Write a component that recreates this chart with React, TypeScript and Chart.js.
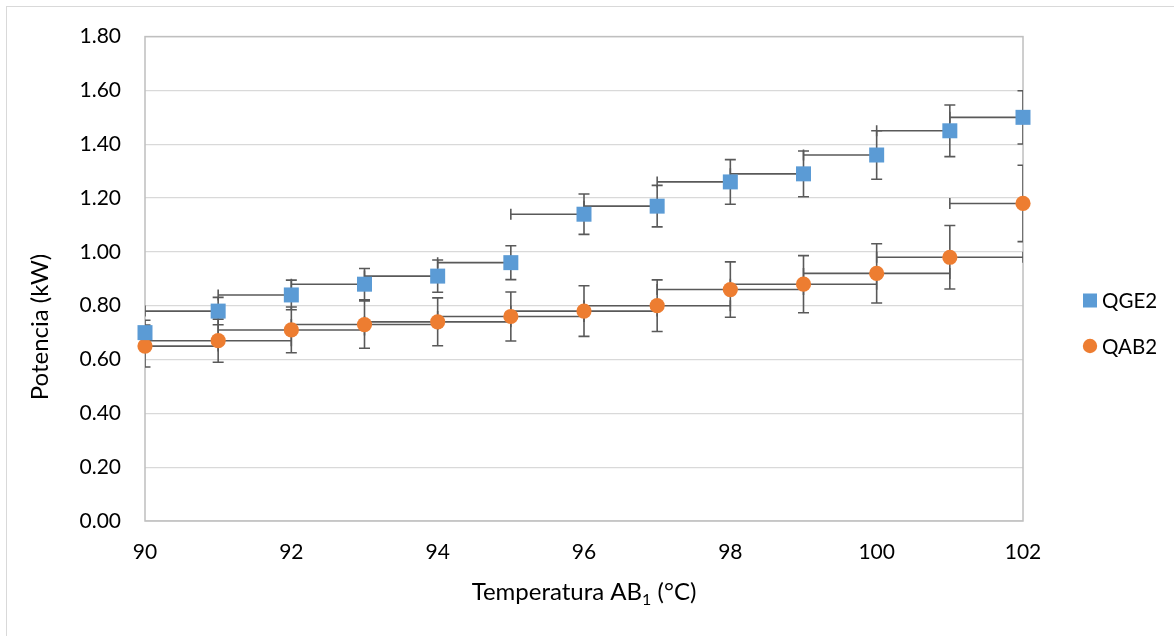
import React, { useEffect, useRef } from "react";
import { Chart, registerables } from "chart.js";

Chart.register(...registerables);

const temperatures = [90, 91, 92, 93, 94, 95, 96, 97, 98, 99, 100, 101, 102];
const qge2Values = [0.70, 0.78, 0.84, 0.88, 0.91, 0.96, 1.14, 1.17, 1.26, 1.29, 1.36, 1.45, 1.50];
const qab2Values = [0.65, 0.67, 0.71, 0.73, 0.74, 0.76, 0.78, 0.80, 0.86, 0.88, 0.92, 0.98, 1.18];
const qge2YErr = [0.046, 0.051, 0.055, 0.058, 0.060, 0.063, 0.075, 0.077, 0.083, 0.085, 0.090, 0.096, 0.099];
const qab2YErr = [0.078, 0.080, 0.085, 0.088, 0.089, 0.091, 0.094, 0.096, 0.103, 0.106, 0.110, 0.118, 0.142];
const qge2XErrMinus = [1, 1, 1, 1, 1, 1, 1, 1, 1, 1, 1, 1, 1];
const qge2XErrPlus = [0, 0, 0, 0, 0, 0, 0, 0, 0, 0, 0, 0, 0];
const qab2XErrMinus = [1, 1, 1, 1, 1, 1, 1, 1, 1, 1, 1, 1, 1];
const qab2XErrPlus = [1, 1, 1, 1, 1, 1, 1, 1, 1, 1, 1, 1, 1];
const yTickValues = [0, 0.2, 0.4, 0.6, 0.8, 1.0, 1.2, 1.4, 1.6, 1.8];
const seriesNames = ["QGE2", "QAB2"];
const xTitleMain = "Temperatura AB";
const xTitleSub = "1";
const xTitleEnd = " (°C)";
const yTitle = "Potencia (kW)";

const FONT = "Lato, 'Open Sans', sans-serif";
const BLUE = "#5B9BD5";
const ORANGE = "#ED7D31";
const ERR = "#595959";

const errorSets = [
  { yErr: qge2YErr, xMinus: qge2XErrMinus, xPlus: qge2XErrPlus },
  { yErr: qab2YErr, xMinus: qab2XErrMinus, xPlus: qab2XErrPlus },
];

const errorBarsPlugin = {
  id: "errorBars",
  beforeDatasetsDraw(chart: any) {
    const { ctx, chartArea, scales } = chart;
    const xs = scales.x;
    const ys = scales.y;
    ctx.save();
    ctx.beginPath();
    ctx.rect(chartArea.left, chartArea.top, chartArea.right - chartArea.left, chartArea.bottom - chartArea.top);
    ctx.clip();
    ctx.strokeStyle = ERR;
    ctx.lineWidth = 1.6;
    const cap = 5.5;
    chart.data.datasets.forEach((ds: any, di: number) => {
      const es = errorSets[di];
      ds.data.forEach((p: any, i: number) => {
        const px = xs.getPixelForValue(p.x);
        const py = ys.getPixelForValue(p.y);
        const yTop = ys.getPixelForValue(p.y + es.yErr[i]);
        const yBot = ys.getPixelForValue(p.y - es.yErr[i]);
        ctx.beginPath();
        ctx.moveTo(px, yTop);
        ctx.lineTo(px, yBot);
        ctx.moveTo(px - cap, yTop);
        ctx.lineTo(px + cap, yTop);
        ctx.moveTo(px - cap, yBot);
        ctx.lineTo(px + cap, yBot);
        if (es.xMinus[i] > 0) {
          const xl = xs.getPixelForValue(p.x - es.xMinus[i]);
          ctx.moveTo(xl, py);
          ctx.lineTo(px, py);
          ctx.moveTo(xl, py - cap);
          ctx.lineTo(xl, py + cap);
        }
        if (es.xPlus[i] > 0) {
          const xr = xs.getPixelForValue(p.x + es.xPlus[i]);
          ctx.moveTo(px, py);
          ctx.lineTo(xr, py);
          ctx.moveTo(xr, py - cap);
          ctx.lineTo(xr, py + cap);
        }
        ctx.stroke();
      });
    });
    ctx.restore();
  },
};

const framePlugin = {
  id: "frame",
  beforeDatasetsDraw(chart: any) {
    const { ctx, chartArea } = chart;
    ctx.save();
    ctx.strokeStyle = "#bfbfbf";
    ctx.lineWidth = 1.5;
    ctx.strokeRect(chartArea.left, chartArea.top, chartArea.right - chartArea.left, chartArea.bottom - chartArea.top);
    ctx.restore();
  },
};

const annotationsPlugin = {
  id: "annotations",
  afterDraw(chart: any) {
    const { ctx, chartArea } = chart;
    ctx.save();
    ctx.fillStyle = "#000";
    // y title
    ctx.save();
    ctx.translate(40, 327);
    ctx.rotate(-Math.PI / 2);
    ctx.font = `24px ${FONT}`;
    ctx.textAlign = "center";
    ctx.textBaseline = "middle";
    ctx.fillText(yTitle, 0, 0);
    ctx.restore();
    // x title with subscript
    const mainFont = `24px ${FONT}`;
    const subFont = `16px ${FONT}`;
    ctx.font = mainFont;
    const w1 = ctx.measureText(xTitleMain).width;
    const w3 = ctx.measureText(xTitleEnd).width;
    ctx.font = subFont;
    const w2 = ctx.measureText(xTitleSub).width;
    const total = w1 + w2 + w3;
    const cx = (chartArea.left + chartArea.right) / 2;
    let x = cx - total / 2;
    const baseY = 600;
    ctx.textAlign = "left";
    ctx.textBaseline = "alphabetic";
    ctx.font = mainFont;
    ctx.fillText(xTitleMain, x, baseY);
    x += w1;
    ctx.font = subFont;
    ctx.fillText(xTitleSub, x, baseY + 5);
    x += w2;
    ctx.font = mainFont;
    ctx.fillText(xTitleEnd, x, baseY);
    // legend
    ctx.font = `20.5px ${FONT}`;
    ctx.textBaseline = "middle";
    ctx.fillStyle = BLUE;
    ctx.fillRect(1083, 293.5, 14, 14);
    ctx.fillStyle = ORANGE;
    ctx.beginPath();
    ctx.arc(1090, 346, 7.2, 0, Math.PI * 2);
    ctx.fill();
    ctx.fillStyle = "#000";
    ctx.fillText(seriesNames[0], 1102, 301);
    ctx.fillText(seriesNames[1], 1102, 347);
    ctx.restore();
  },
};

export default function App() {
  const ref = useRef<HTMLCanvasElement | null>(null);
  useEffect(() => {
    if (!ref.current) return;
    const chart = new Chart(ref.current, {
      type: "scatter",
      data: {
        datasets: [
          {
            label: seriesNames[0],
            data: temperatures.map((t, i) => ({ x: t, y: qge2Values[i] })),
            pointStyle: "rect",
            pointRadius: 10.6,
            pointHoverRadius: 10.6,
            backgroundColor: BLUE,
            borderColor: BLUE,
            borderWidth: 0,
            clip: false,
          } as any,
          {
            label: seriesNames[1],
            data: temperatures.map((t, i) => ({ x: t, y: qab2Values[i] })),
            pointStyle: "circle",
            pointRadius: 7.6,
            pointHoverRadius: 7.6,
            backgroundColor: ORANGE,
            borderColor: ORANGE,
            borderWidth: 0,
            clip: false,
          } as any,
        ],
      },
      options: {
        responsive: false,
        animation: false,
        events: [],
        layout: { padding: { left: 0, right: 151, top: 36, bottom: 0 } },
        scales: {
          x: {
            type: "linear",
            min: 90,
            max: 102,
            ticks: { stepSize: 2, color: "#000", font: { family: FONT, size: 21 }, padding: 19 },
            grid: { display: false, drawTicks: false },
            border: { display: false },
            afterFit: (s: any) => {
              s.height = 115;
            },
          },
          y: {
            type: "linear",
            min: 0,
            max: 1.8,
            afterBuildTicks: (s: any) => {
              s.ticks = yTickValues.map((v) => ({ value: v }));
            },
            ticks: {
              color: "#000",
              font: { family: FONT, size: 21 },
              padding: 24,
              callback: (v: any) => Number(v).toFixed(2),
            },
            grid: { color: "#d9d9d9", lineWidth: 1.2, drawTicks: false },
            border: { display: false },
            afterFit: (s: any) => {
              s.width = 145;
            },
          },
        },
        plugins: { legend: { display: false }, tooltip: { enabled: false }, title: { display: false } },
      },
      plugins: [framePlugin, errorBarsPlugin, annotationsPlugin],
    });
    return () => chart.destroy();
  }, []);
  return (
    <div style={{ position: "fixed", inset: 0, overflow: "hidden", background: "#fff" }}>
      <div
        style={{
          position: "absolute",
          left: 6,
          top: 6,
          width: 1300,
          height: 800,
          border: "1px solid #d9d9d9",
        }}
      />
      <canvas ref={ref} width={1174} height={636} style={{ position: "absolute", left: 0, top: 0 }} />
    </div>
  );
}
